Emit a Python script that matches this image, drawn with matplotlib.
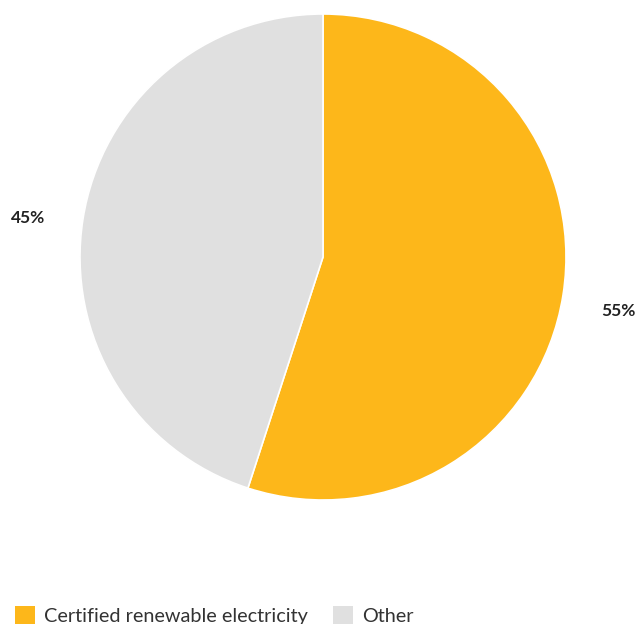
import matplotlib
matplotlib.use("Agg")
import matplotlib.pyplot as plt
from matplotlib.patches import Patch

plt.rcParams['font.family'] = ['Lato', 'DejaVu Sans']

categories = ["Certified renewable electricity", "Other"]
values = [55, 45]
colors = ["#FDB71A", "#E0E0E0"]

W, H = 637, 624
fig = plt.figure(figsize=(W / 100, H / 100), dpi=100)
cx, cy, r = 323, 257, 243
ax = fig.add_axes([(cx - r) / W, (H - cy - r) / H, 2 * r / W, 2 * r / H])

wedges, texts, autotexts = ax.pie(
    values, colors=colors, startangle=90, counterclock=False,
    autopct=lambda p: f"{p:.0f}%", pctdistance=1.23, radius=1,
    wedgeprops=dict(edgecolor="white", linewidth=1.2),
    textprops=dict(fontsize=12.5, fontweight="bold", color="#222222"),
)
ax.set_xlim(-1, 1)
ax.set_ylim(-1, 1)
ax.set_aspect("equal")
ax.axis("off")
for a in autotexts:
    a.set_clip_on(False)
    x, y = a.get_position()
    a.set_position((x, y - 0.03))

handles = [Patch(facecolor=c, edgecolor="none") for c in colors]
fig.legend(handles, categories, loc="upper left",
           bbox_to_anchor=(7 / W, 1 - 598 / H), frameon=False,
           ncol=2, fontsize=14.3, handlelength=1.0, handleheight=1.0,
           handletextpad=0.45, columnspacing=1.3, borderaxespad=0,
           labelcolor="#333333")

fig.savefig("out.png", dpi=100)
